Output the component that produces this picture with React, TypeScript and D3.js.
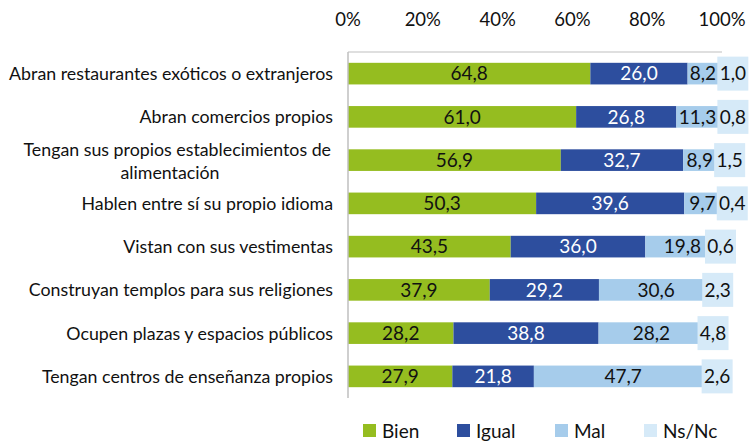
import React from "react";
import * as d3 from "d3";

const categories = [
  ["Abran restaurantes exóticos o extranjeros"],
  ["Abran comercios propios"],
  ["Tengan sus propios establecimientos de", "alimentación"],
  ["Hablen entre sí su propio idioma"],
  ["Vistan con sus vestimentas"],
  ["Construyan templos para sus religiones"],
  ["Ocupen plazas y espacios públicos"],
  ["Tengan centros de enseñanza propios"],
];
const seriesNames = ["Bien", "Igual", "Mal", "Ns/Nc"];
const bien = [64.8, 61.0, 56.9, 50.3, 43.5, 37.9, 28.2, 27.9];
const igual = [26.0, 26.8, 32.7, 39.6, 36.0, 29.2, 38.8, 21.8];
const mal = [8.2, 11.3, 8.9, 9.7, 19.8, 30.6, 28.2, 47.7];
const nsnc = [1.0, 0.8, 1.5, 0.4, 0.6, 2.3, 4.8, 2.6];
const ticks = [0, 20, 40, 60, 80, 100];

const colors = ["#95BD20", "#2D4E9E", "#A6CCEB", "#D6EAF8"];
const textColors = ["#111", "#fff", "#111", "#111"];
const FONT = "Lato, 'Open Sans', sans-serif";

const fmt = (v: number) => v.toFixed(1).replace(".", ",");
const estWidth = (s: string, fs: number) =>
  s.split("").reduce((a, c) => a + (c === "," ? 0.25 : 0.58) * fs, 0);

export default function App() {
  const W = 751, H = 443;
  const x = d3.scaleLinear().domain([0, 100]).range([348, 722]);
  const idx = categories.map((_, i) => String(i));
  const y = d3.scaleBand().domain(idx).range([52, 398]).paddingInner(0.5).paddingOuter(0.25);
  const series = [bien, igual, mal, nsnc];
  const rows = categories.map((_, i) => {
    const obj: any = { key: String(i) };
    seriesNames.forEach((n, s) => (obj[n] = series[s][i]));
    return obj;
  });
  const stack = d3.stack<any>().keys(seriesNames)(rows);
  const bw = y.bandwidth();
  const labelFs = 19;
  const catFs = 17.8;

  return (
    <svg width={W} height={H} style={{ position: "absolute", left: 0, top: 0, fontFamily: FONT }}>
      {ticks.map((t) => (
        <text key={t} x={x(t)} y={26} textAnchor="middle" fontSize={18.5} fill="#111">
          {t}%
        </text>
      ))}
      {stack.map((layer, s) =>
        layer.map((d, i) => {
          const y0 = y(String(i))!;
          return (
            <rect key={s + "-" + i} x={x(d[0])} y={y0} width={x(d[1]) - x(d[0])} height={bw} fill={colors[s]} />
          );
        })
      )}
      {stack.map((layer, s) =>
        layer.map((d, i) => {
          const cy = y(String(i))! + bw / 2;
          const v = series[s][i];
          const txt = fmt(v);
          let cx = (x(d[0]) + x(d[1])) / 2;
          if (s === 3) {
            const boxW = 31, boxH = 34;
            const malLayer = stack[2][i];
            const malC = (x(malLayer[0]) + x(malLayer[1])) / 2;
            const malRight = malC + estWidth(fmt(mal[i]), labelFs) / 2 + 1;
            const left = Math.max(cx - boxW / 2, malRight);
            cx = left + boxW / 2;
            return (
              <g key={"l" + s + i}>
                <rect x={left} y={cy - boxH / 2} width={boxW} height={boxH} fill={colors[3]} />
                <text x={cx} y={cy} dy="0.36em" textAnchor="middle" fontSize={labelFs} fill={textColors[s]}>
                  {txt}
                </text>
              </g>
            );
          }
          return (
            <text key={"l" + s + i} x={cx} y={cy} dy="0.36em" textAnchor="middle" fontSize={labelFs} fill={textColors[s]}>
              {txt}
            </text>
          );
        })
      )}
      <line x1={x(0)} x2={x(100)} y1={52} y2={52} stroke="#BFBFBF" strokeWidth={1.2} />
      <line x1={x(0)} x2={x(0)} y1={52} y2={398} stroke="#BFBFBF" strokeWidth={1.5} />
      {categories.map((lines, i) => {
        const cy = y(String(i))! + bw / 2;
        if (lines.length === 1) {
          return (
            <text key={"c" + i} x={333} y={cy} dy="0.36em" textAnchor="end" fontSize={catFs} fill="#111">
              {lines[0]}
            </text>
          );
        }
        return (
          <g key={"c" + i}>
            <text x={331} y={cy - 4.3} textAnchor="end" fontSize={catFs} fill="#111">
              {lines[0]}
            </text>
            <text x={170} y={cy + 18.7} textAnchor="middle" fontSize={catFs} fill="#111">
              {lines[1]}
            </text>
          </g>
        );
      })}
      {seriesNames.map((n, s) => {
        const lx = [363, 457, 555, 644][s];
        return (
          <g key={"lg" + n}>
            <rect x={lx} y={424} width={13} height={13} fill={colors[s]} />
            <text x={lx + 19} y={438} fontSize={19} fill="#111">
              {n}
            </text>
          </g>
        );
      })}
    </svg>
  );
}
